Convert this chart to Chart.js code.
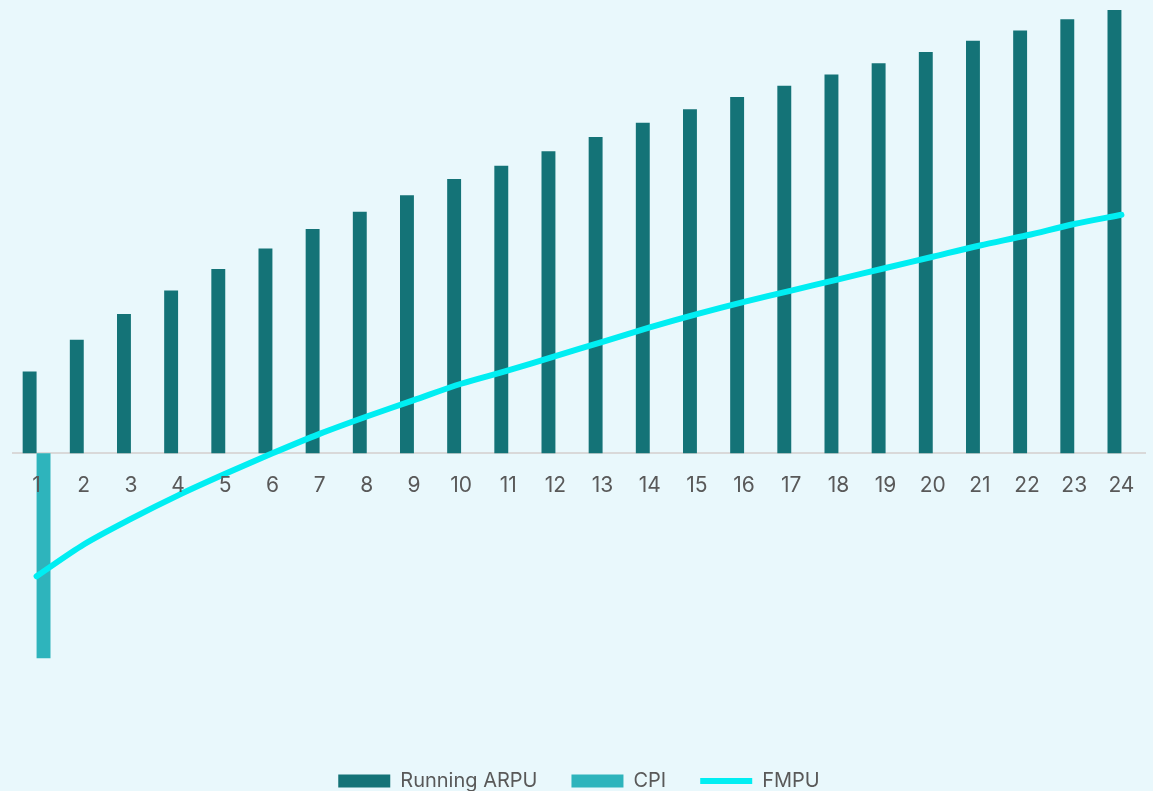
<!DOCTYPE html>
<html>
<head>
<meta charset="utf-8">
<script src="https://cdn.jsdelivr.net/npm/chart.js@4.4.1/dist/chart.umd.min.js"></script>
<style>
  html, body { margin: 0; padding: 0; background: #e9f8fc; }
  #wrap { width: 1153px; height: 791px; }
</style>
</head>
<body>
<div id="wrap"><canvas id="arpuChart"></canvas></div>
<script>
const months = ['1','2','3','4','5','6','7','8','9','10','11','12','13','14','15','16','17','18','19','20','21','22','23','24']
const runningArpu = [0.80, 1.11, 1.36, 1.59, 1.80, 2.00, 2.19, 2.36, 2.52, 2.68, 2.81, 2.95, 3.09, 3.23, 3.36, 3.48, 3.59, 3.70, 3.81, 3.92, 4.03, 4.13, 4.24, 4.33]
const cpi = [-2.00, null, null, null, null, null, null, null, null, null, null, null, null, null, null, null, null, null, null, null, null, null, null, null]
const fmpu = [-1.20, -0.89, -0.64, -0.41, -0.20, 0.00, 0.19, 0.36, 0.52, 0.68, 0.81, 0.95, 1.09, 1.23, 1.36, 1.48, 1.59, 1.70, 1.81, 1.92, 2.03, 2.13, 2.24, 2.33]

const FONT = 'Inter, "Noto Sans", sans-serif'

const ctx = document.getElementById('arpuChart')

new Chart(ctx, {
    type: 'bar',
    data: {
        labels: months,
        datasets: [{
            label: 'Running ARPU',
            data: runningArpu,
            backgroundColor: '#147377',
            pointStyle: 'rect',
            barPercentage: 1,
            categoryPercentage: 0.59,
            order: 2
        }, {
            label: 'CPI',
            data: cpi,
            backgroundColor: '#2eb4bc',
            pointStyle: 'rect',
            barPercentage: 1,
            categoryPercentage: 0.59,
            order: 3
        }, {
            type: 'line',
            label: 'FMPU',
            data: fmpu,
            borderColor: '#00eef2',
            backgroundColor: '#00eef2',
            borderWidth: 6,
            borderCapStyle: 'round',
            pointStyle: 'line',
            pointRadius: 0,
            tension: 0.3,
            order: 1
        }]
    },
    options: {
        responsive: true,
        maintainAspectRatio: false,
        animation: false,
        layout: {
            padding: { top: 10, left: 13, right: 8, bottom: -10 }
        },
        plugins: {
            tooltip: { enabled: false },
            legend: {
                position: 'bottom',
                labels: {
                    usePointStyle: true,
                    pointStyleWidth: 52,
                    boxHeight: 13,
                    padding: 34,
                    color: '#595959',
                    font: { family: FONT, size: 20 },
                    sort: (a, b) => a.datasetIndex - b.datasetIndex
                }
            }
        },
        scales: {
            x: {
                position: { y: 0 },
                grid: { display: false },
                border: { display: true, color: '#d9d9d9', width: 2 },
                ticks: {
                    z: 1,
                    autoSkip: false,
                    maxRotation: 0,
                    padding: 12,
                    color: '#595959',
                    font: { family: FONT, size: 21 }
                }
            },
            y: {
                display: false,
                min: -2.77,
                max: 4.33
            }
        }
    }
});
</script>
</body>
</html>
